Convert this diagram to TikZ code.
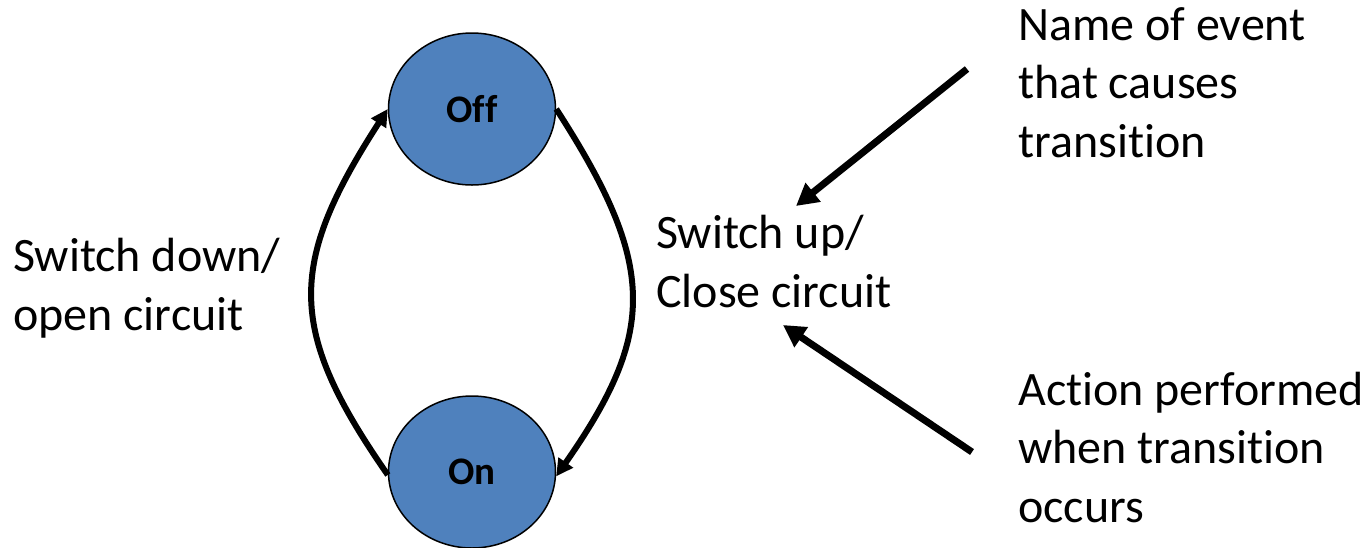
\documentclass[tikz,border=0pt]{standalone}
\usepackage{fontspec}
\setmainfont{Carlito}[Ligatures=NoCommon]
\usetikzlibrary{arrows.meta,shapes.geometric}
\definecolor{stateblue}{RGB}{79,129,189}
\begin{document}
\begin{tikzpicture}[x=1pt,y=-1pt,
  state/.style={ellipse,draw=black,line width=1.5pt,fill=stateblue,minimum width=167pt,minimum height=152pt,inner sep=0pt,font=\fontsize{39}{42}\selectfont\bfseries},
  label/.style={anchor=base west,align=left,inner sep=0pt,font=\fontsize{48}{58.3}\selectfont},
  trans/.style={line width=6pt,-{Triangle[length=17pt,width=17pt]}},
  pointer/.style={line width=7pt,-{Triangle[length=22pt,width=23pt]}}]
\useasboundingbox (0,0) rectangle (1371,547);
\node[state] (off) at (472,109) {Off};
\node[state] (on) at (472,472) {On};
\draw[trans] (on.182) .. controls (287,330) and (287,265) .. (off.180);
\draw[trans] (off.0) .. controls (657,265) and (657,332) .. (on.357);
\node[label] (down) at (13,330) {Switch down/\\open circuit};
\node[label] (up) at (656,307) {Switch up/\\Close circuit};
\node[label] (event) at (1018,157) {Name of event\\that causes\\transition};
\node[label] (action) at (1018,522) {Action performed\\when transition\\occurs};
\coordinate (e1) at (967,69);
\coordinate (e2) at (796,206);
\coordinate (a1) at (972,452);
\coordinate (a2) at (783,325);
\draw[pointer] (e1) -- (e2);
\draw[pointer] (a1) -- (a2);
\end{tikzpicture}
\end{document}
